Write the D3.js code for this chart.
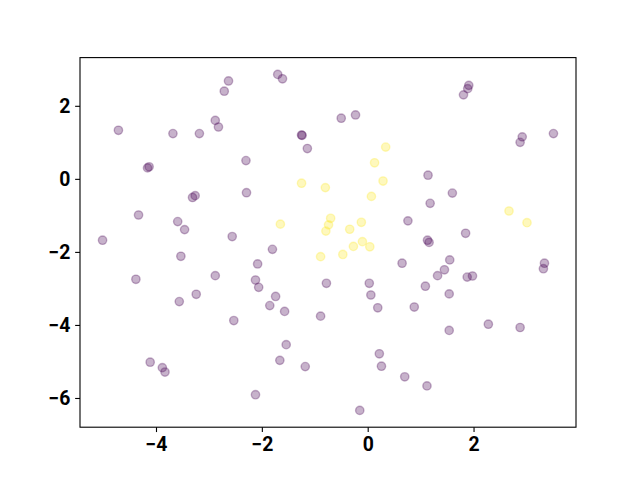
<!DOCTYPE html>
<html>
<head>
<meta charset="utf-8">
<title>scatter</title>
<script src="https://cdn.jsdelivr.net/npm/d3@7/dist/d3.min.js"></script>
<style>
  body { margin: 0; background: #fff; }
  .axis text { font-family: Roboto, "Liberation Sans", sans-serif; font-weight: bold; font-size: 19.4px; fill: #000; }
  .axis line { stroke: #000; stroke-width: 1.1px; }
  .axis path { display: none; }
</style>
</head>
<body>
<svg id="chart" width="640" height="480"></svg>
<script>
// purple group (class 0)
const xs0 = [-5.01, -4.71, -4.33, -4.16, -4.13, -4.11, -3.88, -3.83, -3.68, -3.59,
  -3.46, -3.53, -3.56, -4.38, -3.24, -3.18, -3.26, -3.31, -2.88, -2.82,
  -2.71, -2.63, -2.88, -2.53, -2.56, -2.30, -2.29, -2.12, -2.06, -2.08,
  -2.12, -1.85, -1.74, -1.80, -1.70, -1.61, -1.57, -1.54, -1.66, -1.24,
  -1.25, -1.14, -1.18, -0.89, -0.78, -0.50, -0.23, -0.15, 0.03, 0.06,
  0.19, 0.22, 0.26, 0.70, 0.65, 0.76, 0.88, 1.09, 1.12, 1.13,
  1.16, 1.14, 1.18, 1.32, 1.45, 1.55, 1.54, 1.54, 1.60, 1.81,
  1.89, 1.91, 1.85, 1.88, 1.98, 2.28, 2.88, 2.88, 2.92, 3.32,
  3.34, 3.51];
const ys0 = [-1.68, 1.33, -0.99, 0.30, 0.33, -5.02, -5.17, -5.29, 1.24, -1.17,
  -1.39, -2.12, -3.36, -2.75, -3.16, 1.24, -0.46, -0.51, 1.60, 1.42,
  2.40, 2.68, -2.65, -3.88, -1.58, 0.50, -0.38, -2.77, -2.97, -2.33,
  -5.91, -3.47, -3.22, -1.93, 2.86, 2.74, -3.63, -4.54, -4.97, 1.19,
  1.20, 0.83, -5.14, -3.76, -2.86, 1.66, 1.75, -6.34, -2.86, -3.18,
  -3.53, -4.79, -5.13, -5.42, -2.31, -1.15, -3.51, -2.94, -5.67, -1.68,
  -1.74, 0.10, -0.67, -2.65, -2.49, -2.22, -3.15, -4.15, -0.39, 2.30,
  2.47, 2.56, -1.49, -2.69, -2.66, -3.98, -4.07, 1.00, 1.15, -2.46,
  -2.31, 1.24];

// yellow group (class 1)
const xs1 = [-1.25, -0.80, 0.29, 0.34, 0.13, 0.07, -1.65, -0.70, -0.74, -0.79,
  -0.34, -0.12, -0.10, -0.27, 0.04, -0.47, -0.89, 2.67, 3.01];
const ys1 = [-0.12, -0.24, -0.06, 0.87, 0.44, -0.48, -1.24, -1.08, -1.26, -1.43,
  -1.38, -1.19, -1.72, -1.85, -1.86, -2.07, -2.13, -0.88, -1.20];

const xTicks = [-4, -2, 0, 2];
const yTicks = [2, 0, -2, -4, -6];
const groupColors = ['#440154', '#fde725'];

const svg = d3.select('#chart');
const margin = { top: 57.6, right: 64, bottom: 52.8, left: 80 };
const innerWidth = 640 - margin.left - margin.right;
const innerHeight = 480 - margin.top - margin.bottom;
const g = svg.append('g').attr('transform', `translate(${margin.left}, ${margin.top})`);

const points = xs0.map((x, i) => ({ x: x, y: ys0[i], c: 0 }))
  .concat(xs1.map((x, i) => ({ x: x, y: ys1[i], c: 1 })));

// matplotlib style 5% margins
function padded(ext) {
  const m = (ext[1] - ext[0]) * 0.05;
  return [ext[0] - m, ext[1] + m];
}
const xScale = d3.scaleLinear().domain(padded(d3.extent(points, d => d.x))).range([0, innerWidth]);
const yScale = d3.scaleLinear().domain(padded(d3.extent(points, d => d.y))).range([innerHeight, 0]);

g.selectAll('.dot').data(points).join('circle')
  .attr('class', 'dot')
  .attr('cx', d => xScale(d.x))
  .attr('cy', d => yScale(d.y))
  .attr('r', 4.17)
  .attr('fill', d => groupColors[d.c])
  .attr('fill-opacity', 0.3)
  .attr('stroke', d => groupColors[d.c])
  .attr('stroke-opacity', 0.3)
  .attr('stroke-width', 1.39);

// axes
const xAxis = d3.axisBottom(xScale).tickValues(xTicks).tickSize(4.86).tickPadding(4.86)
  .tickFormat(d => d3.format('d')(d).replace('-', '\u2212'));
const yAxis = d3.axisLeft(yScale).tickValues(yTicks).tickSize(4.86).tickPadding(4.86)
  .tickFormat(d => d3.format('d')(d).replace('-', '\u2212'));
g.append('g').attr('class', 'axis').attr('transform', `translate(0, ${innerHeight})`).call(xAxis);
g.append('g').attr('class', 'axis').call(yAxis);

// frame
g.append('rect')
  .attr('width', innerWidth).attr('height', innerHeight)
  .attr('fill', 'none').attr('stroke', '#000').attr('stroke-width', 1.1);
</script>
</body>
</html>
